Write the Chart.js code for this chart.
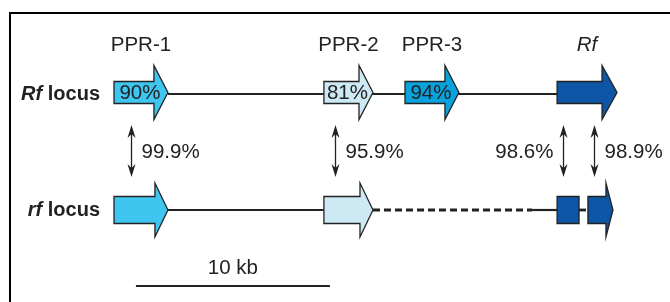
<!DOCTYPE html>
<html>
<head>
<meta charset="utf-8">
<script src="https://cdn.jsdelivr.net/npm/chart.js@4.4.0/dist/chart.umd.min.js"></script>
<style>
html,body{margin:0;padding:0;background:#fff;}
#wrap{width:670px;height:302px;position:relative;}
</style>
</head>
<body>
<div id="wrap"><canvas id="c" width="670" height="302"></canvas></div>
<script>
// ---------- DATA (positions in kb along the locus, rows: 1 = Rf locus, 0 = rf locus) ----------
const rowNames = ['rf locus', 'Rf locus'];
const geneNames = ['PPR-1', 'PPR-2', 'PPR-3', 'Rf'];
// Rf locus genes
const rfGeneStart = [0, 10.82, 15.0, 22.84];
const rfGeneEnd = [2.78, 13.35, 17.78, 25.93];
const rfGeneIdentity = ['90%', '81%', '94%', ''];
// rf locus genes / fragments
const rfLocusStart = [0, 10.82, 22.84, 24.43];
const rfLocusEnd = [2.78, 13.35, 23.97, 25.72];
const rfLocusGene = ['PPR-1', 'PPR-2', 'Rf', 'Rf'];
const rfLocusShape = ['arrow', 'arrow', 'box', 'arrow'];
// backbone segments [start, end, dashed]
const rfBackbone = [[2.78, 22.84, false]];
const rfLocusBackbone = [[2.78, 10.82, false], [13.35, 21.55, true], [21.55, 22.84, false], [23.97, 24.43, true]];
// sequence identity between loci
const identityX = [0.88, 11.4, 23.14, 24.74];
const identityValue = ['99.9%', '95.9%', '98.6%', '98.9%'];
const identitySide = ['right', 'right', 'left', 'right'];
// scale bar
const scaleBarStart = 1.13;
const scaleBarLength = 10; // kb
const scaleBarLabel = '10 kb';

// ---------- STYLE ----------
const geneColors = {'PPR-1': '#3ec6f1', 'PPR-2': '#cdeaf4', 'PPR-3': '#0aa2dc', 'Rf': '#0d56a6'};
const ink = '#222222';
const FONT = '"Liberation Sans", Arial, Helvetica, sans-serif';

const datasets = [];
rfBackbone.forEach(s => datasets.push({
  type: 'line', data: [{x: s[0], y: 1}, {x: s[1], y: 1}], borderColor: ink, borderWidth: 2.2,
  borderDash: s[2] ? [7, 4] : [], pointRadius: 0, fill: false
}));
rfLocusBackbone.forEach(s => datasets.push({
  type: 'line', data: [{x: s[0], y: 0}, {x: s[1], y: 0}], borderColor: ink, borderWidth: s[2] ? 2.8 : 2.2,
  borderDash: s[2] ? [7, 4] : [], pointRadius: 0, fill: false
}));

function geneShape(ctx, x0, x1, yc, bodyHalf, headHalf, headLen, shape, color) {
  ctx.save();
  ctx.beginPath();
  if (shape === 'box') {
    ctx.rect(x0, yc - bodyHalf, x1 - x0, bodyHalf * 2);
  } else {
    const hb = x1 - headLen;
    ctx.moveTo(x0, yc - bodyHalf);
    ctx.lineTo(hb, yc - bodyHalf);
    ctx.lineTo(hb, yc - headHalf);
    ctx.lineTo(x1, yc);
    ctx.lineTo(hb, yc + headHalf);
    ctx.lineTo(hb, yc + bodyHalf);
    ctx.lineTo(x0, yc + bodyHalf);
    ctx.closePath();
  }
  ctx.fillStyle = color;
  ctx.fill();
  ctx.lineWidth = 1.3;
  ctx.strokeStyle = ink;
  ctx.lineJoin = 'miter';
  ctx.stroke();
  ctx.restore();
}

function vArrowHead(ctx, x, y, dir) {
  // dir -1 = pointing up, +1 = pointing down
  ctx.beginPath();
  ctx.moveTo(x, y);
  ctx.lineTo(x - 4, y - dir * 13);
  ctx.lineTo(x, y - dir * 9);
  ctx.lineTo(x + 4, y - dir * 13);
  ctx.closePath();
  ctx.fill();
}

const drawPlugin = {
  id: 'locusDraw',
  afterDatasetsDraw(chart) {
    const ctx = chart.ctx;
    const xs = chart.scales.x, ys = chart.scales.y;
    const yTop = ys.getPixelForValue(1), yBot = ys.getPixelForValue(0);

    // frame
    ctx.save();
    ctx.fillStyle = '#000';
    ctx.fillRect(9, 12, 661, 2);
    ctx.fillRect(9, 12, 2, 290);
    ctx.restore();

    // Rf locus genes
    for (let i = 0; i < geneNames.length; i++) {
      const x0 = xs.getPixelForValue(rfGeneStart[i]);
      const x1 = xs.getPixelForValue(rfGeneEnd[i]);
      geneShape(ctx, x0, x1, yTop - 1.5, 11, 27, i === 3 ? 15 : 14, 'arrow', geneColors[geneNames[i]]);
      ctx.save();
      ctx.fillStyle = ink;
      ctx.textAlign = 'center';
      ctx.textBaseline = 'middle';
      ctx.font = (geneNames[i] === 'Rf' ? 'italic ' : '') + '20.5px ' + FONT;
      ctx.fillText(geneNames[i], (x0 + x1) / 2, 45);
      if (rfGeneIdentity[i]) {
        ctx.font = '20.5px ' + FONT;
        ctx.fillText(rfGeneIdentity[i], (x0 + x1) / 2 - 1, yTop - 1);
      }
      ctx.restore();
    }

    // rf locus genes
    for (let i = 0; i < rfLocusStart.length; i++) {
      const x0 = xs.getPixelForValue(rfLocusStart[i]);
      const x1 = xs.getPixelForValue(rfLocusEnd[i]);
      const hl = (x1 - x0) < 30 ? 7 : 13;
      geneShape(ctx, x0, x1, yBot, 13.5, 27, hl, rfLocusShape[i], geneColors[rfLocusGene[i]]);
    }

    // row labels
    ctx.save();
    ctx.fillStyle = ink;
    ctx.textBaseline = 'middle';
    ctx.textAlign = 'left';
    const drawRowLabel = (it, rest, y) => {
      ctx.font = 'italic bold 20px ' + FONT;
      const w1 = ctx.measureText(it).width;
      ctx.font = 'bold 20px ' + FONT;
      const w2 = ctx.measureText(rest).width;
      const xr = 100;
      const xl = xr - w1 - w2;
      ctx.font = 'italic bold 20px ' + FONT;
      ctx.fillText(it, xl, y);
      ctx.font = 'bold 20px ' + FONT;
      ctx.fillText(rest, xl + w1, y);
    };
    drawRowLabel(rowNames[1].slice(0, 2), rowNames[1].slice(2), yTop);
    drawRowLabel(rowNames[0].slice(0, 2), rowNames[0].slice(2), yBot);
    ctx.restore();

    // identity arrows
    ctx.save();
    ctx.fillStyle = ink;
    ctx.strokeStyle = ink;
    ctx.lineWidth = 1.3;
    const aTop = 125, aBot = 177;
    for (let i = 0; i < identityX.length; i++) {
      const x = Math.round(xs.getPixelForValue(identityX[i])) + 0.5;
      ctx.beginPath();
      ctx.moveTo(x, aTop + 8);
      ctx.lineTo(x, aBot - 8);
      ctx.stroke();
      vArrowHead(ctx, x, aTop, -1);
      vArrowHead(ctx, x, aBot, 1);
      ctx.font = '20.5px ' + FONT;
      ctx.textBaseline = 'middle';
      if (identitySide[i] === 'right') {
        ctx.textAlign = 'left';
        ctx.fillText(identityValue[i], x + 10, 152);
      } else {
        ctx.textAlign = 'right';
        ctx.fillText(identityValue[i], x - 10, 152);
      }
    }
    ctx.restore();

    // scale bar
    ctx.save();
    const sb0 = xs.getPixelForValue(scaleBarStart);
    const sb1 = xs.getPixelForValue(scaleBarStart + scaleBarLength);
    ctx.fillStyle = ink;
    ctx.fillRect(sb0, 285, sb1 - sb0, 2);
    ctx.font = '20.5px ' + FONT;
    ctx.textAlign = 'center';
    ctx.textBaseline = 'middle';
    ctx.fillText(scaleBarLabel, (sb0 + sb1) / 2, 268);
    ctx.restore();
  }
};

// x: kb, 19.4 px per kb, PPR-1 start at pixel 114
const PX_PER_KB = 19.4;
const xMin = -114 / PX_PER_KB, xMax = (670 - 114) / PX_PER_KB;
// y: row 1 at pixel 94, row 0 at pixel 210
const yPerRow = 116;
const yMin = (210 - 302) / yPerRow, yMax = 210 / yPerRow;

new Chart(document.getElementById('c'), {
  type: 'scatter',
  data: { datasets },
  options: {
    responsive: false,
    animation: false,
    events: [],
    layout: { padding: 0 },
    plugins: { legend: { display: false }, tooltip: { enabled: false } },
    scales: {
      x: { type: 'linear', min: xMin, max: xMax, display: false },
      y: { type: 'linear', min: yMin, max: yMax, display: false }
    }
  },
  plugins: [drawPlugin]
});
</script>
</body>
</html>
